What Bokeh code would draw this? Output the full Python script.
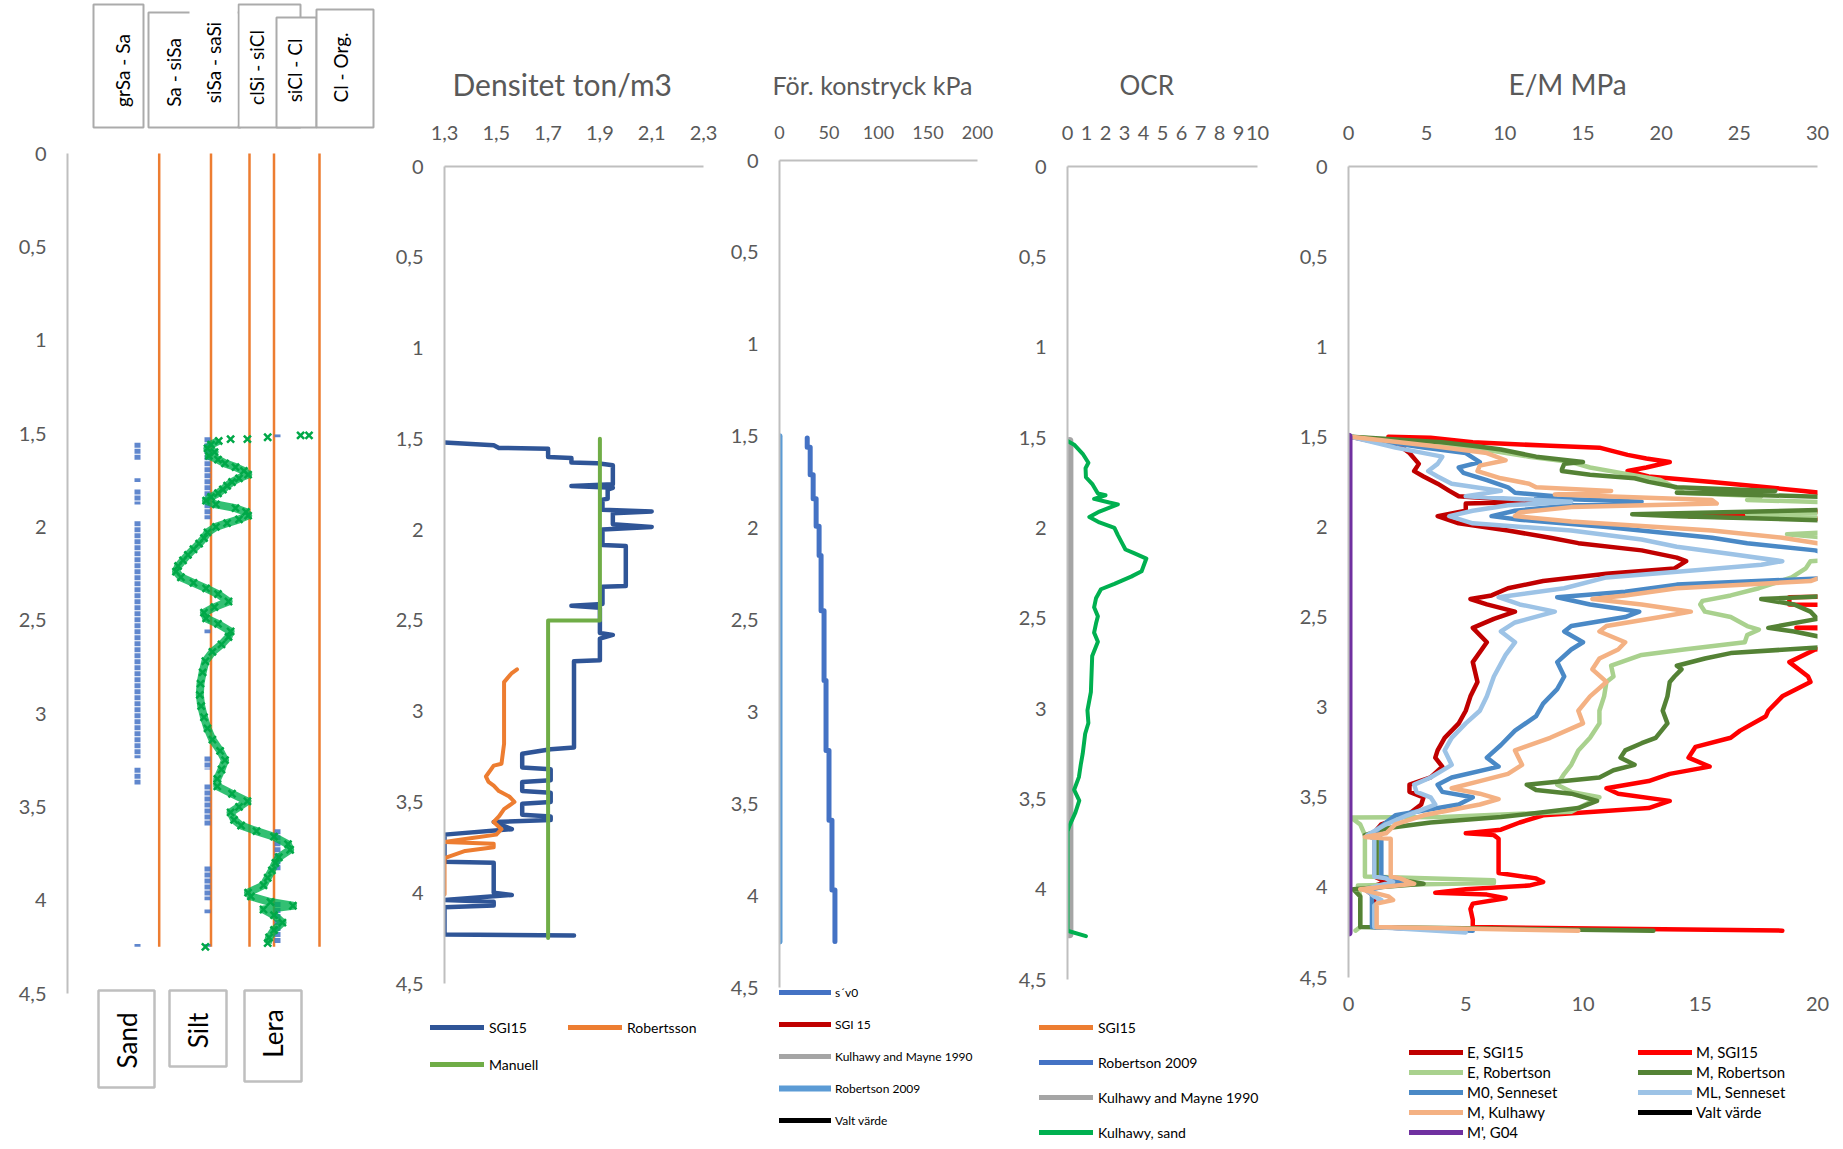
import math
from bokeh.plotting import figure
from bokeh.models import (Range1d, FixedTicker, CustomJSTickFormatter, LinearAxis,
                          Legend, LegendItem)
from bokeh.layouts import row, column
from bokeh.core.properties import value
from bokeh.embed import file_html
from bokeh.resources import INLINE

# ------------------------------------------------------------------ data
DEPTH_TICKS = [0, 0.5, 1, 1.5, 2, 2.5, 3, 3.5, 4, 4.5]

# Panel 1 : soil behaviour index (Ic) and classification
IC_BOUNDARIES = [1.31, 2.05, 2.60, 2.95, 3.60]
IC_BOUNDARY_BOTTOM = 4.25
HEADER_LABELS = ["grSa - Sa", "Sa - siSa", "siSa - saSi", "clSi - siCl", "siCl - Cl", "Cl - Org."]
SOIL_LABELS = ["Sand", "Silt", "Lera"]
IC_PROFILE = [(1.51, 3.45), (1.51, 3.33), (1.52, 2.86), (1.53, 2.57), (1.53, 2.33), (1.54, 2.16),
              (1.56, 2.05), (1.58, 2.00), (1.60, 2.10), (1.62, 2.02), (1.64, 2.15), (1.66, 2.25),
              (1.68, 2.40), (1.70, 2.52), (1.72, 2.58), (1.74, 2.45), (1.76, 2.35), (1.78, 2.28),
              (1.80, 2.22), (1.82, 2.15), (1.84, 2.05), (1.86, 1.98), (1.88, 2.12), (1.90, 2.40),
              (1.92, 2.55), (1.94, 2.58), (1.96, 2.45), (1.98, 2.28), (2.00, 2.12), (2.03, 2.00),
              (2.06, 1.95), (2.09, 1.88), (2.12, 1.80), (2.15, 1.72), (2.18, 1.65), (2.21, 1.58),
              (2.24, 1.55), (2.27, 1.62), (2.30, 1.80), (2.33, 1.98), (2.36, 2.15), (2.40, 2.30),
              (2.43, 2.10), (2.46, 1.95), (2.49, 1.98), (2.52, 2.15), (2.56, 2.33), (2.59, 2.30),
              (2.63, 2.20), (2.67, 2.07), (2.72, 1.97), (2.78, 1.93), (2.84, 1.90), (2.90, 1.89),
              (2.96, 1.91), (3.02, 1.95), (3.08, 2.00), (3.14, 2.07), (3.20, 2.18), (3.25, 2.25),
              (3.30, 2.20), (3.35, 2.14), (3.39, 2.14), (3.43, 2.35), (3.47, 2.57), (3.50, 2.45),
              (3.53, 2.33), (3.57, 2.38), (3.60, 2.48), (3.63, 2.70), (3.66, 2.95), (3.70, 3.15),
              (3.73, 3.18), (3.77, 3.02), (3.80, 2.97), (3.84, 2.92), (3.88, 2.86), (3.92, 2.80),
              (3.96, 2.58), (3.98, 2.62), (4.01, 2.90), (4.03, 3.22), (4.05, 2.80), (4.08, 2.95),
              (4.12, 3.07), (4.16, 2.95), (4.20, 2.88), (4.23, 2.86), (4.25, 1.97)]
SOIL_CLASS_CODE = [1, 2, 3]
SAND_INTERVALS = [(1.55, 1.64), (1.74, 1.76), (1.80, 1.88), (1.97, 3.24), (3.29, 3.38), (4.235, 4.25)]
SILT_INTERVALS = [(1.52, 1.96), (2.55, 2.57), (3.23, 3.30), (3.38, 3.60), (3.82, 4.00), (4.05, 4.07), (4.235, 4.25)]
LERA_INTERVALS = [(1.505, 1.52), (3.62, 3.84), (4.01, 4.23)]

# Panel 2 : density (depth, ton/m3)
DENS_SGI15 = [(1.52, 1.30), (1.535, 1.49), (1.55, 1.51), (1.555, 1.70), (1.60, 1.70), (1.605, 1.79),
              (1.63, 1.79), (1.635, 1.89), (1.645, 1.95), (1.75, 1.95), (1.76, 1.79), (1.77, 1.95),
              (1.78, 1.93), (1.83, 1.93), (1.835, 1.91), (1.89, 1.91), (1.90, 2.10), (1.91, 1.95),
              (1.97, 1.95), (1.985, 2.10), (2.00, 1.91), (2.085, 1.91), (2.09, 2.00), (2.31, 2.00),
              (2.315, 1.91), (2.41, 1.91), (2.42, 1.79), (2.43, 1.90), (2.57, 1.90), (2.58, 1.95),
              (2.60, 1.90), (2.72, 1.90), (2.725, 1.80), (3.20, 1.80), (3.21, 1.71), (3.235, 1.60),
              (3.31, 1.60), (3.32, 1.71), (3.38, 1.71), (3.39, 1.60), (3.44, 1.60), (3.45, 1.71),
              (3.50, 1.71), (3.51, 1.60), (3.57, 1.60), (3.58, 1.71), (3.60, 1.71), (3.61, 1.49),
              (3.65, 1.56), (3.68, 1.30), (3.83, 1.30), (3.835, 1.49), (4.00, 1.49), (4.012, 1.56),
              (4.04, 1.30), (4.05, 1.49), (4.07, 1.49), (4.08, 1.30), (4.23, 1.30), (4.235, 1.80)]
DENS_ROBERTSSON = [(2.77, 1.58), (2.79, 1.56), (2.84, 1.53), (3.17, 1.53), (3.18, 1.53), (3.29, 1.52),
                   (3.30, 1.49), (3.36, 1.46), (3.39, 1.47), (3.41, 1.49), (3.44, 1.51), (3.47, 1.55),
                   (3.50, 1.57), (3.54, 1.53), (3.58, 1.51), (3.61, 1.49), (3.65, 1.52), (3.68, 1.50),
                   (3.70, 1.40), (3.72, 1.30), (3.73, 1.49), (3.75, 1.49), (3.77, 1.38), (3.81, 1.30),
                   (4.01, 1.30)]
DENS_MANUELL = [(1.50, 1.90), (2.50, 1.90), (2.50, 1.70), (4.25, 1.70)]

# Panel 3 : preconsolidation pressure (kPa)
SV0_STEP_TOP = [1.51, 1.56, 1.71, 1.84, 1.99, 2.15, 2.45, 2.83, 3.21, 3.59, 3.97]
SV0_STEP_VAL = [28, 31, 34, 37, 40, 42, 45, 47, 50, 53, 56]
SV0_BOTTOM = 4.25
PC_ROBERTSON2009 = [(1.50, 0.0), (4.25, 0.0)]

# Panel 4 : OCR
OCR_KULHAWY_SAND = [(1.52, 0.0), (1.54, 0.35), (1.59, 0.8), (1.64, 1.1), (1.67, 0.95), (1.72, 0.97),
                    (1.76, 1.32), (1.81, 1.6), (1.82, 2.0), (1.84, 1.4), (1.86, 2.2), (1.87, 2.65),
                    (1.91, 1.68), (1.94, 1.15), (1.97, 1.68), (2.00, 2.47), (2.04, 2.65), (2.09, 2.9),
                    (2.12, 3.05), (2.14, 3.5), (2.17, 4.15), (2.24, 3.9), (2.27, 3.35), (2.31, 2.47),
                    (2.34, 1.76), (2.39, 1.5), (2.44, 1.4), (2.49, 1.6), (2.53, 1.5), (2.58, 1.4),
                    (2.63, 1.6), (2.71, 1.3), (2.91, 1.23), (3.01, 1.05), (3.08, 1.1), (3.14, 0.93),
                    (3.25, 0.8), (3.31, 0.7), (3.38, 0.6), (3.45, 0.35), (3.51, 0.62), (3.58, 0.4),
                    (3.65, 0.1), (3.68, 0.0), (4.23, 0.0), (4.26, 0.97)]
OCR_KULHAWY_MAYNE = [(1.52, 0.1), (4.25, 0.1)]

# Panel 5 : E / M modulus (MPa)
E_SGI15 = [(1.50, 0.1), (1.56, 2.3), (1.59, 2.6), (1.65, 3.0), (1.69, 2.8), (1.72, 3.2), (1.76, 3.8),
           (1.80, 4.3), (1.83, 4.7), (1.86, 8.0), (1.87, 5.0), (1.91, 5.0), (1.94, 3.8), (1.98, 4.7),
           (2.02, 6.8), (2.06, 8.6), (2.09, 9.8), (2.13, 12.5), (2.17, 14.0), (2.19, 14.4),
           (2.23, 13.9), (2.26, 11.0), (2.30, 8.3), (2.34, 6.8), (2.38, 6.1), (2.40, 5.2), (2.43, 5.9),
           (2.47, 7.1), (2.51, 6.2), (2.56, 5.3), (2.64, 5.9), (2.75, 5.3), (2.86, 5.5), (2.94, 5.2),
           (3.02, 5.0), (3.09, 4.7), (3.17, 4.1), (3.24, 3.8), (3.28, 3.7), (3.33, 4.0), (3.39, 3.5),
           (3.43, 2.6), (3.47, 2.6), (3.50, 3.2), (3.54, 3.1), (3.60, 2.5), (3.65, 1.4), (3.71, 1.0),
           (3.73, 1.1), (3.94, 1.1), (3.97, 1.6), (4.01, 0.7), (4.05, 1.1), (4.10, 1.1), (4.22, 1.1),
           (4.24, 5.0)]
M_SGI15 = [(1.50, 1.7), (1.505, 3.5), (1.53, 5.3), (1.55, 8.6), (1.56, 10.7), (1.60, 11.9), (1.62, 12.7),
           (1.64, 13.7), (1.67, 12.7), (1.69, 11.9), (1.72, 12.8), (1.75, 15.5), (1.80, 19.4),
           (1.84, 22.0), (1.90, 23.0), (1.94, 14.5), (1.96, 22.0), (2.00, 24.0), (2.38, 24.0),
           (2.39, 18.8), (2.43, 18.8), (2.44, 24.0), (2.55, 24.0), (2.56, 19.1), (2.57, 24.0),
           (2.66, 22.0), (2.68, 19.9), (2.75, 18.8), (2.83, 19.6), (2.86, 19.7), (2.94, 18.5),
           (3.02, 17.9), (3.05, 17.8), (3.13, 16.7), (3.17, 16.3), (3.22, 14.8), (3.28, 14.5),
           (3.33, 15.4), (3.37, 13.7), (3.41, 12.8), (3.45, 11.0), (3.48, 11.5), (3.52, 13.7),
           (3.56, 12.8), (3.60, 8.3), (3.64, 7.3), (3.68, 6.5), (3.70, 5.0), (3.71, 6.2), (3.73, 6.4),
           (3.92, 6.4), (3.95, 8.0), (3.97, 8.3), (3.99, 7.7), (4.01, 5.0), (4.03, 3.7), (4.04, 5.9),
           (4.06, 6.7), (4.09, 5.3), (4.12, 5.2), (4.18, 5.3), (4.22, 5.3), (4.24, 18.5)]
E_ROBERTSON = [(1.50, 0.1), (1.54, 3.8), (1.57, 5.8), (1.61, 7.7), (1.64, 9.5), (1.67, 10.3), (1.70, 11.6),
               (1.74, 13.3), (1.78, 13.9), (1.81, 14.3), (1.83, 17.6), (1.85, 17.0), (1.87, 22.0),
               (1.92, 22.0), (1.93, 17.0), (1.95, 22.0), (2.02, 22.0), (2.04, 18.7), (2.08, 22.0),
               (2.17, 22.0), (2.19, 19.7), (2.23, 19.5), (2.28, 18.9), (2.34, 17.5), (2.38, 16.3),
               (2.41, 15.1), (2.43, 15.0), (2.47, 15.2), (2.50, 16.3), (2.55, 17.0), (2.57, 17.5),
               (2.60, 17.0), (2.64, 16.9), (2.68, 14.3), (2.71, 12.5), (2.77, 11.2), (2.83, 11.3),
               (2.86, 11.0), (2.94, 10.9), (3.02, 10.7), (3.09, 10.7), (3.17, 10.3), (3.24, 9.8),
               (3.32, 9.5), (3.37, 9.2), (3.43, 8.9), (3.47, 9.5), (3.50, 10.7), (3.54, 10.1),
               (3.58, 9.5), (3.61, 4.0), (3.612, 0.1), (3.65, 0.5), (3.71, 0.7), (3.94, 0.7),
               (3.96, 6.2), (3.975, 6.2), (3.99, 0.4), (4.05, 0.5), (4.22, 0.5), (4.24, 0.3)]
M_ROBERTSON = [(1.50, 0.1), (1.53, 4.0), (1.55, 5.3), (1.57, 6.5), (1.61, 8.0), (1.64, 10.0), (1.65, 9.2),
               (1.68, 9.1), (1.69, 9.1), (1.71, 10.3), (1.73, 12.2), (1.75, 12.8), (1.78, 14.0),
               (1.80, 18.2), (1.81, 14.0), (1.84, 22.0), (1.87, 23.0), (1.90, 22.0), (1.93, 12.1),
               (1.94, 14.0), (1.97, 22.0), (2.00, 24.0), (2.37, 24.0), (2.38, 21.0), (2.40, 17.6),
               (2.43, 19.0), (2.47, 19.7), (2.51, 20.0), (2.56, 17.9), (2.58, 19.0), (2.62, 20.5),
               (2.66, 21.0), (2.70, 16.3), (2.73, 15.2), (2.77, 14.0), (2.79, 14.2), (2.83, 13.9),
               (2.86, 13.7), (2.94, 13.6), (3.02, 13.4), (3.09, 13.6), (3.17, 13.1), (3.20, 12.5),
               (3.24, 11.8), (3.28, 11.6), (3.32, 12.2), (3.35, 11.3), (3.39, 10.7), (3.43, 7.6),
               (3.46, 8.0), (3.48, 9.5), (3.52, 10.6), (3.56, 9.8), (3.61, 6.5), (3.64, 3.5),
               (3.67, 1.7), (3.71, 0.7), (3.73, 1.2), (3.94, 1.2), (3.96, 2.3), (3.98, 3.2),
               (4.01, 0.2), (4.05, 0.5), (4.22, 0.5), (4.24, 13.0)]
M0_SENNESET = [(1.50, 0.1), (1.56, 3.2), (1.59, 5.0), (1.64, 5.6), (1.67, 4.7), (1.70, 4.9), (1.74, 5.9),
               (1.78, 6.8), (1.81, 7.1), (1.83, 8.8), (1.84, 8.0), (1.86, 12.5), (1.88, 9.5), (1.91, 7.1),
               (1.94, 6.1), (1.96, 7.3), (2.00, 11.0), (2.06, 15.5), (2.09, 17.0), (2.13, 19.9),
               (2.20, 22.0), (2.28, 21.0), (2.32, 14.0), (2.36, 11.8), (2.39, 8.9), (2.43, 10.3),
               (2.47, 12.4), (2.50, 11.8), (2.55, 9.5), (2.58, 9.2), (2.64, 10.0), (2.68, 9.5),
               (2.75, 8.9), (2.83, 9.2), (2.90, 8.9), (2.98, 8.3), (3.05, 8.0), (3.13, 7.1), (3.21, 6.5),
               (3.28, 5.9), (3.33, 6.4), (3.39, 4.4), (3.43, 3.8), (3.47, 4.0), (3.50, 5.3), (3.54, 4.7),
               (3.60, 2.0), (3.67, 1.3), (3.71, 1.1), (3.73, 1.4), (3.94, 1.4), (3.97, 2.3), (4.01, 1.0),
               (4.05, 1.0), (4.22, 1.0), (4.24, 5.3)]
ML_SENNESET = [(1.50, 0.1), (1.56, 2.0), (1.61, 4.0), (1.65, 3.8), (1.69, 3.4), (1.72, 3.8), (1.76, 4.4),
               (1.80, 6.5), (1.83, 5.0), (1.86, 9.5), (1.88, 6.8), (1.91, 5.3), (1.94, 4.3), (1.98, 5.3),
               (2.02, 9.5), (2.07, 12.5), (2.11, 14.0), (2.15, 16.3), (2.19, 18.5), (2.21, 17.6),
               (2.24, 14.8), (2.28, 11.0), (2.34, 9.2), (2.39, 6.4), (2.43, 7.3), (2.47, 8.8),
               (2.53, 7.1), (2.58, 6.5), (2.64, 7.1), (2.71, 6.7), (2.83, 6.2), (2.94, 5.9), (3.02, 5.6),
               (3.09, 5.0), (3.17, 4.4), (3.24, 4.1), (3.32, 4.4), (3.39, 3.5), (3.43, 2.8), (3.47, 2.9),
               (3.50, 3.5), (3.54, 3.7), (3.60, 2.5), (3.65, 1.6), (3.71, 0.8), (3.73, 1.1), (3.94, 1.1),
               (3.95, 1.6), (3.97, 1.9), (4.01, 0.7), (4.05, 1.1), (4.07, 1.4), (4.10, 1.1), (4.22, 1.1),
               (4.25, 5.0)]
M_KULHAWY = [(1.50, 0.1), (1.55, 3.5), (1.59, 5.9), (1.63, 6.7), (1.66, 5.6), (1.69, 5.5), (1.73, 6.5),
             (1.76, 7.7), (1.78, 8.0), (1.80, 11.2), (1.82, 8.8), (1.85, 15.5), (1.87, 15.7), (1.89, 9.5),
             (1.92, 7.3), (1.94, 7.1), (1.97, 9.5), (2.02, 15.5), (2.06, 18.5), (2.09, 20.0), (2.20, 22.0),
             (2.30, 19.7), (2.34, 14.0), (2.38, 11.8), (2.40, 10.4), (2.43, 12.5), (2.47, 14.6),
             (2.50, 13.3), (2.55, 11.0), (2.58, 10.7), (2.64, 11.8), (2.68, 11.5), (2.73, 10.7),
             (2.79, 10.4), (2.86, 11.0), (2.94, 10.3), (3.02, 9.8), (3.09, 10.0), (3.17, 8.6),
             (3.24, 7.1), (3.32, 7.4), (3.37, 6.8), (3.41, 5.6), (3.45, 4.4), (3.48, 5.6), (3.51, 6.4),
             (3.54, 5.6), (3.60, 3.2), (3.65, 2.0), (3.70, 1.6), (3.72, 0.7), (3.73, 1.8), (3.94, 1.8),
             (3.95, 2.2), (3.98, 2.8), (4.01, 0.5), (4.05, 1.7), (4.07, 1.9), (4.09, 1.2), (4.22, 1.2),
             (4.24, 9.8)]
M_G04 = [(1.50, 0.0), (4.25, 0.0)]
NO_DATA = [(float("nan"), float("nan"))]   # series listed in a legend but not drawn

# ------------------------------------------------------------------ styling / helpers
FONT = "Lato"
TXT = "#595959"
AXIS_C = "#BFBFBF"
PAGE_H = 1149


def unzip(pairs):
    return [b for a, b in pairs], [a for a, b in pairs]   # -> (values, depths)


def comma():
    return CustomJSTickFormatter(code="return String(tick).replace('.', ',');")


def no_align(p):
    try:
        p.frame_align = False
    except Exception:
        pass


def style_axis(ax, size, standoff, line=True):
    ax.major_label_text_font = FONT
    ax.major_label_text_font_size = size
    ax.major_label_text_color = TXT
    ax.major_tick_line_color = None
    ax.minor_tick_line_color = None
    ax.major_tick_out = 0
    ax.major_tick_in = 0
    ax.minor_tick_out = 0
    ax.minor_tick_in = 0
    ax.axis_line_color = AXIS_C if line else None
    ax.axis_line_width = 2
    ax.major_label_standoff = standoff


class Panel:
    """A depth profile panel; layout constants are page pixels of the reference."""

    def __init__(self, fig_l, fig_r, fr_l, fr_r, fr_t, fr_b, fig_b, d0, d45, xr,
                 x_loc="above", title="", title_size="28px", title_standoff=44, title_offset=0):
        self.fr = (fr_l, fr_r, fr_t, fr_b)
        self.xr = xr
        self.d0 = d0
        self.scale = (d45 - d0) / 4.5
        y_top = (fr_t - d0) / self.scale
        y_bot = (fr_b - d0) / self.scale
        p = figure(frame_width=fr_r - fr_l, frame_height=fr_b - fr_t,
                   min_border_left=fr_l - fig_l, min_border_right=fig_r - fr_r,
                   min_border_top=fr_t, min_border_bottom=fig_b - fr_b,
                   x_range=Range1d(*xr), y_range=Range1d(y_bot, y_top),
                   x_axis_location=x_loc, output_backend="svg", toolbar_location=None,
                   title=title)
        no_align(p)
        p.grid.visible = False
        p.outline_line_color = None
        p.background_fill_color = "white"
        p.border_fill_color = "white"
        p.yaxis.ticker = FixedTicker(ticks=DEPTH_TICKS)
        p.yaxis.formatter = comma()
        p.yaxis.bounds = (0, 4.5)
        style_axis(p.yaxis, "20px", 21)
        p.title.align = "left"
        p.title.text_font = FONT
        p.title.text_font_size = title_size
        p.title.text_font_style = "normal"
        p.title.text_color = TXT
        p.title.standoff = title_standoff
        p.title.offset = title_offset
        self.p = p

    def dx(self, px):
        l, r, _, _ = self.fr
        return self.xr[0] + (px - l) / (r - l) * (self.xr[1] - self.xr[0])

    def dy(self, py):
        return (py - self.d0) / self.scale


def make_legend(items, location, nrows="auto", size="14px", glyph_w=54, item_h=20,
                spacing=10, standoff=5, label_w=20):
    return Legend(items=[LegendItem(label=lab, renderers=[ren]) for lab, ren in items],
                  location=location, orientation="vertical", nrows=nrows,
                  label_text_font=FONT, label_text_font_size=size, label_text_color="black",
                  glyph_width=glyph_w, glyph_height=item_h, label_height=item_h,
                  label_width=label_w, label_standoff=standoff, spacing=spacing,
                  padding=0, margin=0, border_line_color=None, background_fill_alpha=0)


def legend_figure(fig_l, fig_r, top, entries, left_px, bottom_px, **kw):
    """A figure without axes below a panel that only holds its legend."""
    lf = figure(width=fig_r - fig_l, height=PAGE_H - top, x_axis_location=None,
                y_axis_location=None, min_border=0, toolbar_location=None,
                output_backend="svg", x_range=Range1d(0, 1), y_range=Range1d(0, 1))
    no_align(lf)
    lf.grid.visible = False
    lf.outline_line_color = None
    items = []
    for label, color, width in entries:
        xs, ys = unzip(NO_DATA)
        r = lf.line(x=xs, y=ys, line_color=color, line_width=width, line_cap="round")
        items.append((label, r))
    lf.add_layout(make_legend(items, (left_px - fig_l, PAGE_H - bottom_px), **kw))
    return lf


def line(p, pairs, color, width=4.5, alpha=1.0):
    xs, ys = unzip(pairs)
    return p.line(xs, ys, line_color=color, line_width=width, line_alpha=alpha,
                  line_join="round", line_cap="round")


# ------------------------------------------------------------------ panel 1 (soil classification)
P1 = Panel(0, 375, 67, 375, 0, PAGE_H, PAGE_H, 153, 993, (0, 308 / 70.0), x_loc=None)
p1 = P1.p

header_boxes = [  # page pixels (x0, x1, y0, y1, border)
    (93, 143, 4, 127, True), (148, 240, 12, 127, True), (238, 300, 4, 127, True),
    (189, 237, -4, 125, False), (276, 316, 17, 127, True), (316, 373, 9, 127, True)]
for x0, x1, y0, y1, border in header_boxes:
    p1.quad(left=P1.dx(x0), right=P1.dx(x1), top=P1.dy(y0), bottom=P1.dy(y1),
            fill_color="white", line_color="#ABABAB" if border else None, line_width=2)
header_text_pos = [(122, 70), (173, 72), (213, 62), (256, 67), (294, 70), (340, 67)]
p1.text(x=[P1.dx(a) for a, b in header_text_pos], y=[P1.dy(b) for a, b in header_text_pos],
        text=HEADER_LABELS, angle=math.pi / 2, text_align="center", text_baseline="middle",
        text_font=value(FONT), text_font_size="19px", text_color="black")

foot_boxes = [(98, 154, 990, 1087), (169, 226, 990, 1066), (244, 301, 990, 1081)]
for x0, x1, y0, y1 in foot_boxes:
    p1.quad(left=P1.dx(x0), right=P1.dx(x1), top=P1.dy(y0), bottom=P1.dy(y1),
            fill_color="white", line_color="#BFBFBF", line_width=2.5)
foot_text_pos = [(126, 1040), (197, 1030), (272, 1033)]
p1.text(x=[P1.dx(a) for a, b in foot_text_pos], y=[P1.dy(b) for a, b in foot_text_pos],
        text=SOIL_LABELS, angle=math.pi / 2, text_align="center", text_baseline="middle",
        text_font=value(FONT), text_font_size="26px", text_color="black")

p1.segment(x0=IC_BOUNDARIES, y0=[0] * len(IC_BOUNDARIES), x1=IC_BOUNDARIES,
           y1=[IC_BOUNDARY_BOTTOM] * len(IC_BOUNDARIES), line_color="#ED7D31", line_width=2.5)

for code, intervals in zip(SOIL_CLASS_CODE, [SAND_INTERVALS, SILT_INTERVALS, LERA_INTERVALS]):
    p1.segment(x0=[code] * len(intervals), y0=[a for a, b in intervals],
               x1=[code] * len(intervals), y1=[b for a, b in intervals],
               line_color="#4472C4", line_alpha=0.85, line_width=6, line_dash="5 1")

ic_x, ic_y = unzip(IC_PROFILE)
p1.line(ic_x[5:-1], ic_y[5:-1], line_color="#00B050", line_width=8, line_alpha=0.8,
        line_join="round")
p1.scatter(ic_x, ic_y, marker="x", size=10, line_color="#00A848", line_width=2.5)

# ------------------------------------------------------------------ panel 2 (density)
P2 = Panel(375, 722, 444, 703, 166, 983, 999, 166, 983, (1.3, 2.3),
           title="Densitet ton/m3", title_size="30px", title_standoff=42, title_offset=8)
p2 = P2.p
p2.xaxis.ticker = FixedTicker(ticks=[1.3, 1.5, 1.7, 1.9, 2.1, 2.3])
p2.xaxis.formatter = comma()
style_axis(p2.xaxis, "20px", 27)
line(p2, DENS_SGI15, "#2F5597", 4.5)
line(p2, DENS_ROBERTSSON, "#ED7D31", 4)
line(p2, DENS_MANUELL, "#70AD47", 4)
lf2 = legend_figure(375, 722, 999,
                    [("SGI15", "#2F5597", 5), ("Manuell", "#70AD47", 5), ("Robertsson", "#ED7D31", 5)],
                    430, 1074, nrows=2, size="14px", glyph_w=54, item_h=20, spacing=17,
                    standoff=5, label_w=62)

# ------------------------------------------------------------------ panel 3 (preconsolidation)
P3 = Panel(722, 1010, 779, 977, 160, PAGE_H, PAGE_H, 160, 987, (0, 200),
           title="För. konstryck kPa", title_size="25px", title_standoff=45, title_offset=-7)
p3 = P3.p
p3.xaxis.ticker = FixedTicker(ticks=[0, 50, 100, 150, 200])
style_axis(p3.xaxis, "18px", 22)
r3_rob = line(p3, PC_ROBERTSON2009, "#5B9BD5", 6)
sv_x, sv_y = [], []
for i, (top, val) in enumerate(zip(SV0_STEP_TOP, SV0_STEP_VAL)):
    bot = SV0_STEP_TOP[i + 1] if i + 1 < len(SV0_STEP_TOP) else SV0_BOTTOM
    sv_x += [val, val]
    sv_y += [top, bot]
r3_sv = p3.line(sv_x, sv_y, line_color="#4472C4", line_width=5, line_join="round", line_cap="round")
r3_sgi = line(p3, NO_DATA, "#C00000", 5)
r3_kul = line(p3, NO_DATA, "#A5A5A5", 5)
r3_valt = line(p3, NO_DATA, "#000000", 5)
p3.add_layout(make_legend([("s´v0", r3_sv), ("SGI 15", r3_sgi), ("Kulhawy and Mayne 1990", r3_kul),
                           ("Robertson 2009", r3_rob), ("Valt värde", r3_valt)],
                          (0, PAGE_H - 1130), size="12px", glyph_w=52, item_h=20, spacing=12,
                          standoff=4))

# ------------------------------------------------------------------ panel 4 (OCR)
P4 = Panel(1010, 1290, 1067, 1257, 166, 979, 995, 166, 979, (0, 10),
           title="OCR", title_size="26px", title_standoff=44, title_offset=52)
p4 = P4.p
p4.xaxis.ticker = FixedTicker(ticks=list(range(0, 11)))
style_axis(p4.xaxis, "20px", 27)
line(p4, OCR_KULHAWY_MAYNE, "#A5A5A5", 8)
line(p4, OCR_KULHAWY_SAND, "#00B050", 4)
lf4 = legend_figure(1010, 1290, 995,
                    [("SGI15", "#ED7D31", 5), ("Robertson 2009", "#4472C4", 5),
                     ("Kulhawy and Mayne 1990", "#A5A5A5", 5), ("Kulhawy, sand", "#00B050", 5)],
                    1039, 1141, size="14px", glyph_w=54, item_h=18, spacing=17, standoff=5)

# ------------------------------------------------------------------ panel 5 (E / M)
P5 = Panel(1290, 1840, 1348, 1817, 166, 977, 1027, 166, 977, (0, 20), x_loc="below",
           title="E/M MPa", title_standoff=44, title_offset=160)
p5 = P5.p
p5.xaxis.ticker = FixedTicker(ticks=[0, 5, 10, 15, 20])
style_axis(p5.xaxis, "20px", 19, line=False)
p5.extra_x_ranges = {"top": Range1d(0, 30)}
top_axis = LinearAxis(x_range_name="top", ticker=FixedTicker(ticks=[0, 5, 10, 15, 20, 25, 30]))
style_axis(top_axis, "20px", 27)
p5.add_layout(top_axis, "above")
EM_STYLE = {"E, SGI15": "#C00000", "M, SGI15": "#FF0000", "E, Robertson": "#A9D18E",
            "M, Robertson": "#548235", "M0, Senneset": "#4A89C6", "ML, Senneset": "#9DC3E6",
            "M, Kulhawy": "#F4B183", "Valt värde": "#000000", "M', G04": "#7030A0"}
EM_DATA = {"E, SGI15": E_SGI15, "M, SGI15": M_SGI15, "E, Robertson": E_ROBERTSON,
           "M, Robertson": M_ROBERTSON, "M0, Senneset": M0_SENNESET, "ML, Senneset": ML_SENNESET,
           "M, Kulhawy": M_KULHAWY, "Valt värde": NO_DATA, "M', G04": M_G04}
for name in ["E, SGI15", "M, SGI15", "E, Robertson", "M, Robertson", "M0, Senneset",
             "ML, Senneset", "M, Kulhawy", "Valt värde", "M', G04"]:
    line(p5, EM_DATA[name], EM_STYLE[name], 8 if name == "M', G04" else 4.5)
order = ["E, SGI15", "E, Robertson", "M0, Senneset", "M, Kulhawy", "M', G04",
         "M, SGI15", "M, Robertson", "ML, Senneset", "Valt värde"]
lf5 = legend_figure(1290, 1840, 1027, [(k, EM_STYLE[k], 5) for k in order], 1409, 1141,
                    nrows=5, size="15px", glyph_w=54, item_h=18, spacing=2, standoff=4,
                    label_w=169)

layout = row(p1, column(p2, lf2), p3, column(p4, lf4), column(p5, lf5))
open("out.html", "w").write(file_html(layout, INLINE))
